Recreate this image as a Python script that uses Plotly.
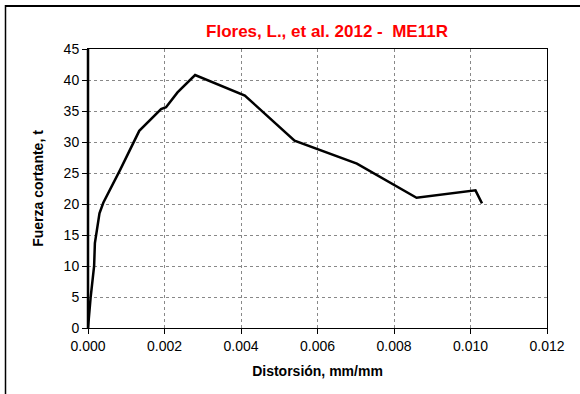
import plotly.graph_objects as go

# Distorsión (mm/mm) vs fuerza cortante (t)
distorsion = [0.0, 0.00007, 0.00016, 0.00018, 0.0003, 0.0004, 0.00084, 0.00134,
              0.00191, 0.00204, 0.00234, 0.0028, 0.0041, 0.0054, 0.00703,
              0.00859, 0.01013, 0.0103]
fuerza = [0.0, 5.0, 10.0, 13.7, 18.5, 20.2, 25.5, 31.8,
          35.3, 35.6, 38.0, 40.8, 37.5, 30.2, 26.5,
          21.0, 22.2, 20.1]

x_ticks = [0.0, 0.002, 0.004, 0.006, 0.008, 0.010, 0.012]
y_ticks = [0, 5, 10, 15, 20, 25, 30, 35, 40, 45]

W, H = 580, 394
L, R, T, B = 88, 33, 49, 66
pw, ph = W - L - R, H - T - B

fig = go.Figure()
fig.add_trace(go.Scatter(x=distorsion, y=fuerza, mode="lines",
                         line=dict(color="black", width=2.5), showlegend=False))

axis_common = dict(showline=True, linecolor="black", linewidth=1, mirror=True,
                   ticks="outside", ticklen=5, tickcolor="black",
                   showgrid=True, gridcolor="#888888", griddash="dot", gridwidth=1,
                   zeroline=False, tickfont=dict(family="Arial", size=14, color="black"))

fig.update_xaxes(range=[0, 0.012], tickvals=x_ticks, tickformat=".3f",
                 title=dict(text="<b>Distorsión, mm/mm</b>", standoff=13,
                            font=dict(family="Arial", size=14, color="black")),
                 **axis_common)
fig.update_yaxes(range=[0, 45], tickvals=y_ticks,
                 title=dict(text="<b>Fuerza cortante, t</b>", standoff=16,
                            font=dict(family="Arial", size=14, color="black")),
                 **axis_common)

# marco exterior del gráfico (arriba e izquierda)
px_x = lambda p: (p - L) / pw
px_y = lambda p: (T + ph - p) / ph
fig.add_shape(type="line", xref="paper", yref="paper",
              x0=px_x(5), x1=px_x(W), y0=px_y(6), y1=px_y(6),
              line=dict(color="black", width=2))
fig.add_shape(type="line", xref="paper", yref="paper",
              x0=px_x(5.5), x1=px_x(5.5), y0=px_y(5), y1=px_y(H),
              line=dict(color="black", width=1.5))
# eje vertical más grueso
fig.add_shape(type="line", xref="paper", yref="paper", x0=0, x1=0, y0=0, y1=1,
              line=dict(color="black", width=2.5))

fig.update_layout(
    width=W, height=H,
    margin=dict(l=L, r=R, t=T, b=B),
    paper_bgcolor="white", plot_bgcolor="white",
    title=dict(text="<b>Flores, L., et al. 2012 -  ME11R</b>",
               x=327 / W, xanchor="center", y=1 - 31 / H, yanchor="middle",
               font=dict(family="Arial", size=17, color="red")),
)

fig.write_html("out.html", config={"displayModeBar": False},
               post_script="document.body.style.margin='0';")
